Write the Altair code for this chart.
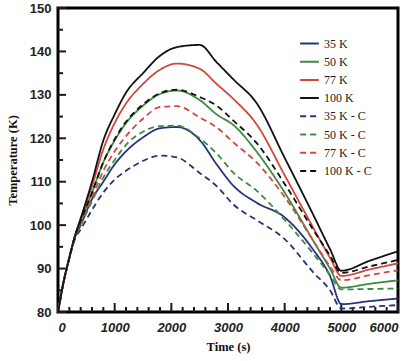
import altair as alt
import pandas as pd

time = [0, 100, 200, 300, 400, 600, 800, 1000, 1200, 1500, 1800, 2100, 2500, 2800, 3100, 3500, 4000, 4500, 4800, 5000, 5500, 6000]

k35 = [80, 87, 92.5, 97.2, 100, 106, 110, 114, 117, 120.2, 122.3, 122.6, 119.6, 114, 109, 105.2, 101.8, 94.4, 88.3, 81.8, 82.5, 83.1]
k50 = [80, 87, 92.5, 97.5, 101, 107.5, 114.5, 119.5, 123.5, 127.5, 130.2, 131, 128.8, 125.5, 123, 117, 107.5, 96.5, 90, 85.6, 86.5, 87.3]
k77 = [80, 87, 92.5, 97.5, 101.5, 109, 117.5, 123.5, 128, 132.5, 135.8, 137.2, 136, 132.5, 129, 123.3, 111.5, 99.5, 92.5, 88.3, 89.8, 91.2]
k100 = [80, 87, 92.5, 97.5, 101.5, 110, 119.5, 125.5, 130.5, 135, 139, 141, 141.5, 137.5, 133.5, 128.2, 115.5, 102.5, 94.5, 89.5, 91.8, 94]
k35c = [80, 87, 92.3, 96.8, 99, 103.5, 107.5, 110.5, 112.5, 114.8, 116, 115.6, 112, 109, 104.7, 101.2, 96.8, 89.2, 85, 80.8, 81.2, 81.6]
k50c = [80, 87, 92.5, 97.2, 100, 105.5, 111, 115, 118.5, 121.5, 122.8, 122.9, 120, 116.5, 112, 108, 101.2, 93.5, 88.5, 85.2, 85.3, 85.4]
k77c = [80, 87, 92.5, 97.3, 100.5, 106.5, 112.5, 117, 120.5, 124.5, 127.2, 127.4, 124.8, 122.5, 119, 114.5, 106.5, 96.5, 90.5, 87.3, 88.5, 89.6]
k100c = [80, 87, 92.5, 97.5, 101, 107.5, 114.5, 119.8, 123.8, 127.8, 130.4, 131.2, 129.5, 127.5, 124, 119, 109.5, 99, 93, 89, 90.5, 92]

series_names = ["35 K", "50 K", "77 K", "100 K", "35 K - C", "50 K - C", "77 K - C", "100 K - C"]
series_values = [k35, k50, k77, k100, k35c, k50c, k77c, k100c]
colors = ["#27337a", "#3d8b40", "#d2483c", "#111111", "#27337a", "#3d8b40", "#d2483c", "#111111"]
dashes = [[1, 0]] * 4 + [[6, 4]] * 4

y_major = [80, 90, 100, 110, 120, 130, 140, 150]
y_minor = [85, 95, 105, 115, 125, 135, 145]
x_major = [0, 1000, 2000, 3000, 4000, 5000, 6000]
x_minor = [t for t in range(200, 6000, 200) if t % 1000 != 0]

rows = []
for name, vals in zip(series_names, series_values):
    for t, v in zip(time, vals):
        rows.append({"Time": t, "Temp": v, "Series": name})
df = pd.DataFrame(rows)

W, H = 340, 304
xscale = alt.Scale(domain=[0, 6000], nice=False, zero=False)
yscale = alt.Scale(domain=[80, 150], nice=False, zero=False)

xaxis = alt.Axis(values=x_major, format="d", ticks=False, domain=False, grid=False,
                 labelFont="Liberation Sans", labelFontWeight="bold", labelFontStyle="italic",
                 labelFontSize=13, labelPadding=9, labelColor="#222",
                 titleFont="Liberation Serif", titleFontWeight="bold", titleFontSize=12.5,
                 titlePadding=6, titleColor="#111")
yaxis = alt.Axis(values=y_major, ticks=False, domain=False, grid=False,
                 labelFont="Liberation Sans", labelFontWeight="bold",
                 labelFontSize=13, labelPadding=7, labelColor="#222",
                 titleFont="Liberation Serif", titleFontWeight="bold", titleFontSize=12.5,
                 titlePadding=10, titleColor="#111")

tick_color = "#1a1a1a"
ymaj = alt.Chart(pd.DataFrame({"Temp": y_major})).mark_rule(color=tick_color, strokeWidth=2).encode(
    y=alt.Y("Temp:Q", scale=yscale, title="Temperature (K)", axis=yaxis),
    x=alt.value(0), x2=alt.value(8))
ymin = alt.Chart(pd.DataFrame({"Temp": y_minor})).mark_rule(color=tick_color, strokeWidth=2).encode(
    y=alt.Y("Temp:Q", scale=yscale), x=alt.value(0), x2=alt.value(5))
xmaj = alt.Chart(pd.DataFrame({"Time": x_major})).mark_rule(color=tick_color, strokeWidth=2).encode(
    x=alt.X("Time:Q", scale=xscale, title="Time (s)", axis=xaxis),
    y=alt.value(H), y2=alt.value(H - 9))
xmin = alt.Chart(pd.DataFrame({"Time": x_minor})).mark_rule(color=tick_color, strokeWidth=2).encode(
    x=alt.X("Time:Q", scale=xscale), y=alt.value(H), y2=alt.value(H - 5))

leg = alt.Legend(title=None, orient="none", legendX=241, legendY=25,
                 symbolType="stroke", symbolStrokeWidth=2, symbolSize=350,
                 labelFont="Liberation Serif", labelFontSize=12,
                 labelColor="#222", rowPadding=1.2, labelOffset=4)

lines = alt.Chart(df).mark_line(strokeWidth=1.8, interpolate="monotone").encode(
    x=alt.X("Time:Q", scale=xscale, title="Time (s)", axis=xaxis),
    y=alt.Y("Temp:Q", scale=yscale, title="Temperature (K)", axis=yaxis),
    color=alt.Color("Series:N", scale=alt.Scale(domain=series_names, range=colors), legend=leg),
    strokeDash=alt.StrokeDash("Series:N", scale=alt.Scale(domain=series_names, range=dashes), legend=leg),
)

chart = alt.layer(ymaj, ymin, xmaj, xmin, lines).properties(
    width=W, height=H,
    autosize=alt.AutoSizeParams(type="none"),
    padding={"left": 58, "top": 8, "right": 13, "bottom": 49},
).configure_view(stroke="black", strokeWidth=3)

chart.save("out.html", embed_options={"renderer": "svg", "actions": False})
